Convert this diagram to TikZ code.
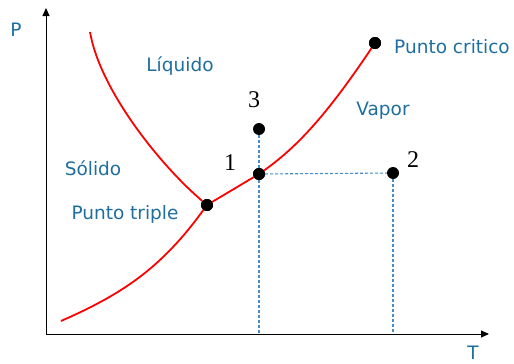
\documentclass[tikz,border=0pt]{standalone}
\usepackage{fontspec}
\setmainfont{Liberation Serif}
\newfontfamily\lblfont{DejaVu Sans}
\usetikzlibrary{arrows.meta}
\definecolor{txtblue}{RGB}{31,110,160}
\definecolor{dashblue}{RGB}{70,140,200}
\begin{document}
\begin{tikzpicture}[x=1pt,y=-1pt,
  lbl/.style={font=\lblfont\fontsize{18.5}{22}\selectfont, text=txtblue, inner sep=0pt},
  num/.style={font=\fontsize{24}{28}\selectfont, inner sep=0pt},
  dot/.style={circle, fill=black, minimum size=12pt, inner sep=0pt},
  curve/.style={red, line width=1.8pt},
  guide/.style={dashblue, dash pattern=on 3pt off 2pt, line width=1.1pt},
  axis/.style={black, line width=1pt, -{Triangle[length=8pt,width=7pt]}}]
\useasboundingbox (0,0) rectangle (514,364);
\coordinate (O) at (46,334);
\coordinate (ytop) at (46,8);
\coordinate (xend) at (489,334);
\draw[axis] (O) -- (ytop);
\draw[axis] (O) -- (xend);
\node[lbl] (P) at (16,30) {P};
\node[lbl, anchor=south] (T) at (473,360) {T};
% points
\node[dot] (tp) at (207,205) {};
\node[dot] (p1) at (259,174) {};
\node[dot] (p3) at (259,129) {};
\node[dot] (p2) at (393,173) {};
\node[dot] (cp) at (375,43) {};
\coordinate (a1) at (259,334);
\coordinate (a2) at (393,334);
\coordinate (fus) at (90,32);
\coordinate (sub) at (61,321);
% guides
\draw[guide] (p3) -- (a1);
\draw[guide] (p1) -- (p2);
\draw[guide] (p2) -- (a2);
% curves
\draw[curve] (fus) .. controls (100,90) and (160,165) .. (tp);
\draw[curve] (sub) .. controls (120,295) and (160,270) .. (tp);
\draw[curve] (tp) -- (p1);
\draw[curve] (p1) .. controls (300,145) and (330,110) .. (cp);
\node[dot] at (tp) {};
\node[dot] at (p1) {};
\node[dot] at (cp) {};
% labels
\node[lbl] (liq) at (180,66) {Líquido};
\node[lbl] (vap) at (383,111) {Vapor};
\node[lbl] (sol) at (93,168) {Sólido};
\node[lbl] (tpl) at (125,214) {Punto triple};
\node[lbl] (cpl) at (452,47) {Punto critico};
\node[num] (n1) at (230,163) {1};
\node[num] (n2) at (413,160) {2};
\node[num] (n3) at (254,100) {3};
\end{tikzpicture}
\end{document}
